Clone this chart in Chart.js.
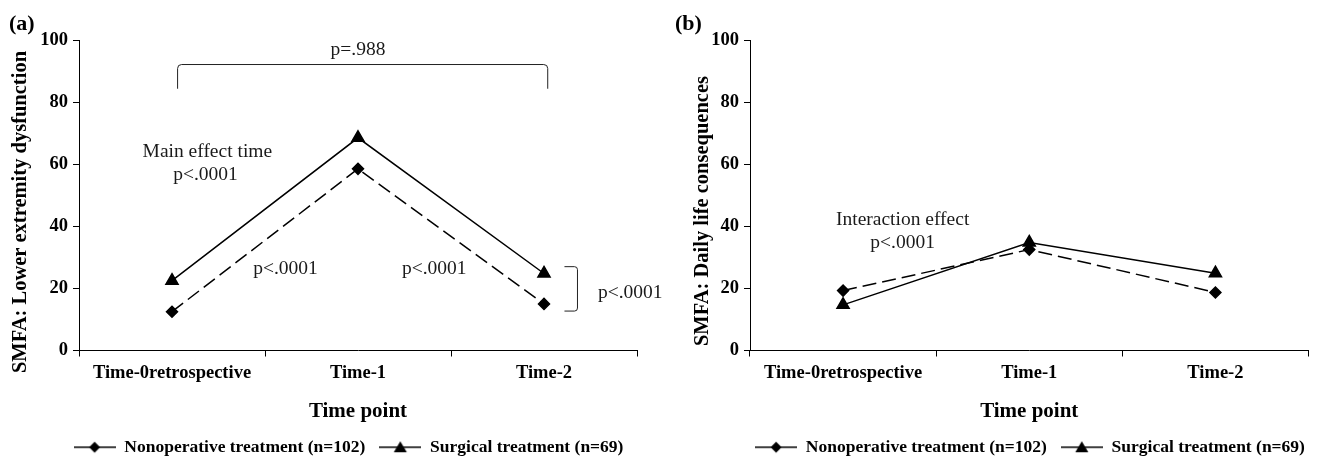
<!DOCTYPE html>
<html>
<head>
<meta charset="utf-8">
<script src="https://cdn.jsdelivr.net/npm/chart.js@4.4.1/dist/chart.umd.min.js"></script>
<style>
html, body { margin: 0; padding: 0; background: #fff; overflow: hidden; }
#wrap { position: relative; width: 1317px; height: 459px; overflow: hidden; }
#boxA { position: absolute; left: 0; top: 0; width: 680px; height: 466px; }
#boxB { position: absolute; left: 658px; top: 0; width: 659px; height: 466px; }
</style>
</head>
<body>
<div id="wrap">
  <div id="boxA"><canvas id="chartA"></canvas></div>
  <div id="boxB"><canvas id="chartB"></canvas></div>
</div>
<script>
// data
var timePoints = ['Time-0retrospective', 'Time-1', 'Time-2'];
var seriesNames = ['Nonoperative treatment (n=102)', 'Surgical treatment (n=69)'];
var nonopLower = [12.5, 58.5, 15];
var surgicalLower = [22.5, 68.5, 24.8];
var nonopDaily = [19.3, 32.5, 18.7];
var surgicalDaily = [14.7, 34.8, 24.9];
var yTicks = [0, 20, 40, 60, 80, 100];

var serif = 'Liberation Serif, Times New Roman, serif';
Chart.defaults.color = '#000';
Chart.defaults.font.family = serif;

// legend icons: line with marker in the middle
function legendIcon(kind) {
    var c = document.createElement('canvas');
    c.width = 42; c.height = 16;
    var g = c.getContext('2d');
    g.strokeStyle = '#000';
    g.lineWidth = 1.5;
    g.beginPath(); g.moveTo(0, 8); g.lineTo(42, 8); g.stroke();
    g.fillStyle = '#000';
    g.beginPath();
    if (kind === 'diamond') {
        g.moveTo(21, 2.5); g.lineTo(26.5, 8); g.lineTo(21, 13.5); g.lineTo(15.5, 8);
    } else {
        g.moveTo(21, 2); g.lineTo(27.5, 13); g.lineTo(14.5, 13);
    }
    g.closePath(); g.fill();
    return c;
}
var icons = [legendIcon('diamond'), legendIcon('triangle')];

// moves the legend sideways so it sits where the figure has it
var shiftLegend = {
    id: 'shiftLegend',
    afterLayout: function(chart, args, opts) {
        chart.legend.left += opts.dx;
        chart.legend.right += opts.dx;
    }
};

// panel letter, y title, p-value texts and brackets
var notes = {
    id: 'notes',
    afterDraw: function(chart, args, opts) {
        var ctx = chart.ctx;
        var xs = chart.scales.x, ys = chart.scales.y;
        ctx.save();
        ctx.fillStyle = '#000';
        ctx.font = 'bold 22px ' + serif;
        ctx.textAlign = 'left';
        ctx.textBaseline = 'middle';
        ctx.fillText(opts.panel, opts.panelX, 24);

        // y axis title, placed a little below the middle of the axis as in the figure
        ctx.save();
        ctx.translate(opts.titleX, opts.titleY);
        ctx.rotate(-Math.PI / 2);
        ctx.textAlign = 'center';
        ctx.font = 'bold 20.5px ' + serif;
        ctx.fillText(opts.yTitle, 0, 0);
        ctx.restore();

        ctx.font = '19.5px ' + serif;
        ctx.fillStyle = '#1a1a1a';
        (opts.texts || []).forEach(function(t) {
            ctx.textAlign = t.align || 'center';
            ctx.fillText(t.text, xs.getPixelForValue(t.x), ys.getPixelForValue(t.y));
        });

        ctx.strokeStyle = '#222';
        ctx.lineWidth = 1;
        (opts.brackets || []).forEach(function(b) {
            var x1 = xs.getPixelForValue(b.x1), x2 = xs.getPixelForValue(b.x2);
            var y1 = ys.getPixelForValue(b.y1), y2 = ys.getPixelForValue(b.y2);
            ctx.beginPath();
            if (b.dir === 'down') {
                ctx.moveTo(x1, y2);
                ctx.arcTo(x1, y1, x2, y1, 4);
                ctx.arcTo(x2, y1, x2, y2, 4);
                ctx.lineTo(x2, y2);
            } else {
                ctx.moveTo(x1, y1);
                ctx.arcTo(x2, y1, x2, y2, 3);
                ctx.arcTo(x2, y2, x1, y2, 3);
                ctx.lineTo(x1, y2);
            }
            ctx.stroke();
        });
        ctx.restore();
    }
};

function makeDatasets(nonop, surgical) {
    return [{
        label: seriesNames[0],
        data: nonop,
        borderColor: '#000',
        borderWidth: 1.5,
        borderDash: [14, 6],
        pointStyle: 'rectRot',
        pointRadius: 5.5,
        pointBackgroundColor: '#000',
        pointBorderColor: '#000',
        tension: 0,
        fill: false
    }, {
        label: seriesNames[1],
        data: surgical,
        borderColor: '#000',
        borderWidth: 1.5,
        pointStyle: 'triangle',
        pointRadius: 7,
        pointBackgroundColor: '#000',
        pointBorderColor: '#000',
        tension: 0,
        fill: false
    }];
}

function makeChart(id, cfg) {
    var canvas = document.getElementById(id);
    new Chart(canvas.getContext('2d'), {
        type: 'line',
        data: { labels: timePoints, datasets: makeDatasets(cfg.nonop, cfg.surgical) },
        plugins: [shiftLegend, notes],
        options: {
            responsive: true,
            maintainAspectRatio: false,
            animation: false,
            layout: { padding: { top: 40, right: cfg.right, left: 0, bottom: 0 } },
            scales: {
                x: {
                    type: 'category',
                    offset: true,
                    grid: { display: true, offset: true, drawOnChartArea: false, tickLength: 6, color: '#000', lineWidth: 1 },
                    border: { display: true, color: '#000', width: 1 },
                    ticks: { padding: 6, color: '#000', font: { size: 18.5, weight: 'bold' } },
                    title: { display: true, text: 'Time point', color: '#000', font: { size: 21, weight: 'bold' }, padding: { top: 0, bottom: 0 } },
                    afterFit: function(s) { s.height = 74; }
                },
                y: {
                    min: 0,
                    max: 100,
                    afterBuildTicks: function(s) { s.ticks = yTicks.map(function(v) { return { value: v }; }); },
                    grid: { drawOnChartArea: false, tickLength: 6, color: '#000', lineWidth: 1 },
                    border: { display: true, color: '#000', width: 1 },
                    ticks: { padding: 5, color: '#000', font: { size: 18.5, weight: 'bold' } },
                    title: { display: false, text: cfg.yTitle },
                    afterFit: function(s) { s.width = cfg.yWidth; }
                }
            },
            plugins: {
                tooltip: { enabled: false },
                legend: {
                    position: 'bottom',
                    labels: {
                        usePointStyle: true,
                        pointStyleWidth: 42,
                        padding: 14,
                        color: '#000',
                        font: { size: 17.5, weight: 'bold' },
                        generateLabels: function(chart) {
                            var items = Chart.defaults.plugins.legend.labels.generateLabels(chart);
                            items.forEach(function(it, i) { it.pointStyle = icons[i]; it.lineWidth = 0; });
                            return items;
                        }
                    }
                },
                shiftLegend: { dx: cfg.legendDx },
                notes: cfg.notes
            }
        }
    });
}

makeChart('chartA', {
    nonop: nonopLower,
    surgical: surgicalLower,
    yTitle: 'SMFA: Lower extremity dysfunction',
    yWidth: 79,
    right: 43,
    legendDx: 30,
    notes: {
        panel: '(a)',
        panelX: 9,
        yTitle: 'SMFA: Lower extremity dysfunction',
        titleX: 21,
        titleY: 212,
        texts: [
            { text: 'p=.988', x: 1.0, y: 96.9 },
            { text: 'Main effect time', x: 0.19, y: 64 },
            { text: 'p<.0001', x: 0.18, y: 56.6 },
            { text: 'p<.0001', x: 0.61, y: 26.3 },
            { text: 'p<.0001', x: 1.41, y: 26.3 },
            { text: 'p<.0001', x: 2.29, y: 18.5, align: 'left' }
        ],
        brackets: [
            { x1: 0.03, x2: 2.02, y1: 92.1, y2: 84.3, dir: 'down' },
            { x1: 2.11, x2: 2.18, y1: 27, y2: 12.7, dir: 'side' }
        ]
    }
});

makeChart('chartB', {
    nonop: nonopDaily,
    surgical: surgicalDaily,
    yTitle: 'SMFA: Daily life consequences',
    yWidth: 92,
    right: 7,
    legendDx: 46,
    notes: {
        panel: '(b)',
        panelX: 17,
        yTitle: 'SMFA: Daily life consequences',
        titleX: 45,
        titleY: 211,
        texts: [
            { text: 'Interaction effect', x: 0.32, y: 42.1 },
            { text: 'p<.0001', x: 0.32, y: 34.7 }
        ],
        brackets: []
    }
});
</script>
</body>
</html>
